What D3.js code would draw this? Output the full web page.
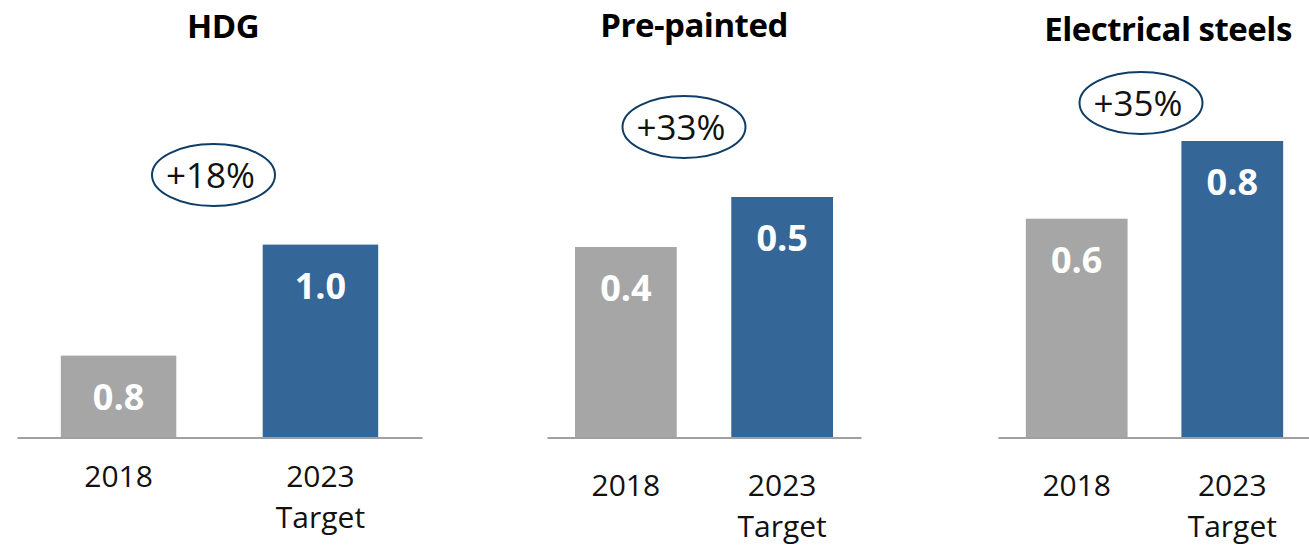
<!DOCTYPE html>
<html>
<head>
<meta charset="utf-8">
<script src="https://cdn.jsdelivr.net/npm/d3@7"></script>
<style>
  html, body { margin: 0; padding: 0; background: #ffffff; }
  svg { display: block; font-family: "Open Sans", "Noto Sans", sans-serif; }
</style>
</head>
<body>
<svg id="chart" width="1309" height="545"></svg>
<script>
// ---- data ----
const panels = ["HDG", "Pre-painted", "Electrical steels"];
const categories = ["2018", "2023\nTarget"];
const values2018 = [0.83, 0.38, 0.59];
const values2023 = [0.98, 0.505, 0.80];
const growthLabels = ["+18%", "+33%", "+35%"];
const yDomainMin = [0.72, -0.095, 0.0];
const yDomainMax = [1.27, 0.9225, 1.1];

// ---- layout (not data) ----
const layout = [
  { x0: 17,  x1: 422,  pin: 0.428, pout: 0.217, titleX: 223,  titleY: 38, ex: 213.5, ey: 175, labelY: 49.5 },
  { x0: 547, x1: 861,  pin: 0.349, pout: 0.179, titleX: 694,  titleY: 37, ex: 684,   ey: 127, labelY: 58.5 },
  { x0: 998, x1: 1311, pin: 0.346, pout: 0.179, titleX: 1168, titleY: 41, ex: 1141,  ey: 103, labelY: 58.5 }
];
const baseY = 437;
const topY = 30;
const colors = ["#a6a6a6", "#346698"];
const fmt = d3.format(".1f");

const svg = d3.select("#chart");

panels.forEach((name, i) => {
  const L = layout[i];
  const g = svg.append("g");
  const x = d3.scaleBand().domain(categories).range([L.x0, L.x1])
    .paddingInner(L.pin).paddingOuter(L.pout);
  const y = d3.scaleLinear().domain([yDomainMin[i], yDomainMax[i]]).range([baseY, topY]);
  const vals = [values2018[i], values2023[i]];
  const data = categories.map((c, j) => ({ cat: c, v: vals[j], color: colors[j] }));

  // bars
  g.selectAll("rect.bar").data(data).join("rect")
    .attr("class", "bar")
    .attr("x", d => x(d.cat))
    .attr("width", x.bandwidth())
    .attr("y", d => y(d.v))
    .attr("height", d => y(yDomainMin[i]) - y(d.v))
    .attr("fill", d => d.color);

  // value labels
  g.selectAll("text.val").data(data).join("text")
    .attr("class", "val")
    .attr("x", d => x(d.cat) + x.bandwidth() / 2)
    .attr("y", d => y(d.v) + 54)
    .attr("text-anchor", "middle")
    .attr("fill", "#ffffff")
    .attr("font-weight", 700)
    .attr("font-size", 36)
    .text(d => fmt(d.v));

  // axis
  const axis = g.append("g")
    .attr("transform", `translate(0,${baseY + 0.5})`)
    .call(d3.axisBottom(x).tickSize(0).tickSizeOuter(0));
  axis.select(".domain").attr("stroke", "#a0a0a0").attr("stroke-width", 2);
  axis.selectAll(".tick text").each(function(d) {
    const t = d3.select(this);
    t.text(null).attr("y", null).attr("dy", null)
      .attr("fill", "#111111").attr("font-size", 30)
      .attr("font-family", "'Open Sans', 'Noto Sans', sans-serif");
    d.split("\n").forEach((line, k) => {
      t.append("tspan").attr("x", 0).attr("y", L.labelY + k * 40.5).text(line);
    });
  });

  // title
  g.append("text")
    .attr("x", L.titleX).attr("y", L.titleY)
    .attr("text-anchor", "middle")
    .attr("font-weight", 700)
    .attr("font-size", 33)
    .attr("letter-spacing", -0.5)
    .attr("fill", "#000000")
    .text(name);

  // growth bubble
  g.append("ellipse")
    .attr("cx", L.ex).attr("cy", L.ey)
    .attr("rx", 61.5).attr("ry", 31)
    .attr("fill", "none")
    .attr("stroke", "#0f3d66")
    .attr("stroke-width", 2);
  g.append("text")
    .attr("x", L.ex - 3).attr("y", L.ey + 13)
    .attr("text-anchor", "middle")
    .attr("font-size", 35)
    .attr("fill", "#111111")
    .text(growthLabels[i]);
});
</script>
</body>
</html>
